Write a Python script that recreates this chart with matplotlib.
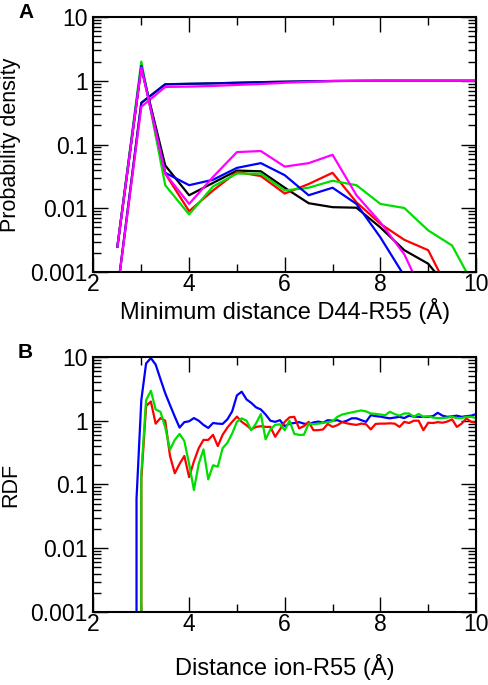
import matplotlib
matplotlib.use("Agg")
import matplotlib.pyplot as plt
import numpy as np
from matplotlib.ticker import LogLocator, MultipleLocator, FixedLocator, FixedFormatter

plt.rcParams['font.family'] = ['Liberation Sans', 'DejaVu Sans']

# ---- panel A: minimum distance D44-R55 ----
dist = [2.5, 3.0, 3.5, 4.0, 4.5, 5.0, 5.5, 6.0, 6.5, 7.0, 7.5, 8.0, 8.5, 9.0, 9.5, 10.0]

dens_black = [0.0025, 1.6, 0.047, 0.016, 0.025, 0.039, 0.038, 0.021, 0.012, 0.0104,
              0.0102, 0.005, 0.0022, 0.00135, 0.00047, 0]
dens_red = [0.0025, 1.7, 0.035, 0.009, 0.019, 0.037, 0.032, 0.017, 0.024, 0.036,
            0.0124, 0.0057, 0.0032, 0.0022, 0.0004, 0]
dens_green = [0.0025, 2.0, 0.023, 0.008, 0.022, 0.035, 0.035, 0.019, 0.021, 0.027,
              0.023, 0.0117, 0.0101, 0.0045, 0.0026, 0.00053]
dens_blue = [0.0025, 1.7, 0.036, 0.023, 0.028, 0.043, 0.051, 0.033, 0.016, 0.021,
             0.0117, 0.0035, 0.00087, 0, 0, 0]
dens_magenta = [0.0025, 1.6, 0.035, 0.0117, 0.031, 0.076, 0.079, 0.045, 0.051, 0.069,
                0.016, 0.006, 0.0019, 0.0003, 0, 0]

cum_dark = [0.0005, 0.45, 0.88, 0.895, 0.91, 0.93, 0.95, 0.965, 0.98, 0.99,
            0.995, 1.0, 1.0, 1.0, 1.0, 1.0]
cum_magenta = [0.0005, 0.39, 0.80, 0.81, 0.83, 0.86, 0.89, 0.93, 0.96, 0.99,
               1.0, 1.0, 1.0, 1.0, 1.0, 1.0]

# ---- panel B: RDF ion-R55 ----
r = np.round(np.arange(2.8, 10.01, 0.1), 1)

rdf_blue = [0, 0.06, 2.1, 7.9, 9.6, 7.6, 4.5, 2.7, 1.76, 1.16,
            0.78, 0.95, 0.98, 1.1, 1.0, 0.86, 0.77, 0.92, 0.90, 0.89,
            1.05, 1.4, 2.5, 2.85, 2.16, 1.9, 1.62, 1.5, 1.25, 1.0,
            0.96, 1.02, 0.82, 0.9, 0.92, 0.95, 0.9, 0.88, 0.94, 0.97,
            0.93, 1.02, 1.0, 1.02, 0.95, 1.0, 1.09, 1.09, 1.02, 0.96,
            1.22, 1.18, 1.16, 1.12, 1.09, 1.12, 1.15, 1.1, 1.2, 1.16,
            1.15, 1.15, 1.15, 1.18, 1.33, 1.2, 1.15, 1.17, 1.2, 1.15,
            1.18, 1.2, 1.27]
rdf_red = [0, 0, 0.12, 1.7, 2.0, 0.9, 1.1, 1.0, 0.28, 0.15,
           0.21, 0.28, 0.13, 0.23, 0.37, 0.5, 0.5, 0.6, 0.4, 0.6,
           0.78, 0.96, 1.16, 0.96, 0.85, 0.73, 0.8, 0.82, 0.8, 0.8,
           0.56, 0.73, 0.96, 1.13, 1.15, 0.76, 0.82, 0.96, 0.71, 0.71,
           0.73, 0.89, 0.8, 0.85, 0.95, 0.91, 0.88, 0.86, 0.9, 0.88,
           0.73, 0.89, 0.9, 0.9, 0.91, 0.9, 0.8, 0.96, 0.92, 1.0,
           1.0, 0.71, 0.93, 0.92, 0.95, 0.93, 0.97, 1.05, 0.8, 0.9,
           1.08, 0.96, 0.93]
rdf_green = [0, 0, 0.15, 2.1, 2.95, 1.5, 1.38, 0.79, 0.35, 0.5,
             0.62, 0.48, 0.21, 0.082, 0.21, 0.355, 0.12, 0.2, 0.19, 0.37,
             0.45, 0.63, 0.96, 1.09, 1.0, 0.71, 0.91, 1.27, 0.51, 0.73,
             0.86, 0.88, 0.71, 1.0, 0.62, 0.6, 0.6, 0.9, 0.88, 0.9,
             0.92, 0.95, 0.98, 1.15, 1.25, 1.3, 1.35, 1.4, 1.45, 1.4,
             1.3, 1.28, 1.25, 1.22, 1.38, 1.27, 1.2, 1.3, 1.3, 1.15,
             1.28, 1.15, 1.18, 1.12, 1.1, 1.1, 1.12, 1.15, 1.1, 1.1,
             1.15, 1.15, 1.1]

fig = plt.figure(figsize=(4.89, 6.85), dpi=100)
axA = fig.add_axes([0.1912, 0.6029, 0.7822, 0.3723])
axB = fig.add_axes([0.1912, 0.1066, 0.7822, 0.3723])

lw = 1.6
axA.plot(dist, cum_dark, color='black', lw=lw)
axA.plot(dist, cum_dark, color='blue', lw=lw, alpha=0.7)
axA.plot(dist, cum_magenta, color='magenta', lw=lw)
axA.plot(dist, dens_black, color='black', lw=lw)
axA.plot(dist, dens_red, color='red', lw=lw)
axA.plot(dist, dens_green, color='#00dd00', lw=lw)
axA.plot(dist, dens_blue, color='blue', lw=lw)
axA.plot(dist, dens_magenta, color='magenta', lw=lw)

axB.plot(r, rdf_blue, color='blue', lw=lw)
axB.plot(r, rdf_red, color='red', lw=lw)
axB.plot(r, rdf_green, color='#00dd00', lw=lw)

fs = 16.5
ylabels = ['0.001', '0.01', '0.1', '1', '10']
for ax in (axA, axB):
    ax.set_yscale('log', nonpositive='clip')
    ax.set_xlim(2, 10)
    ax.set_ylim(0.001, 10)
    ax.xaxis.set_major_locator(MultipleLocator(2))
    ax.xaxis.set_minor_locator(MultipleLocator(1))
    ax.yaxis.set_major_locator(FixedLocator([0.001, 0.01, 0.1, 1, 10]))
    ax.yaxis.set_major_formatter(FixedFormatter(ylabels))
    ax.yaxis.set_minor_locator(LogLocator(base=10, subs=np.arange(2, 10)))
    ax.yaxis.set_minor_formatter(plt.NullFormatter())
    ax.tick_params(which='both', direction='in', top=True, right=True,
                   labelsize=fs, width=1.0)
    ax.tick_params(axis='y', pad=4)
    ax.tick_params(axis='x', pad=1)
    ax.tick_params(which='major', length=11)
    ax.tick_params(which='minor', length=5.5)
    for s in ax.spines.values():
        s.set_linewidth(1.5)

axA.set_xlabel('Minimum distance D44-R55 (Å)', fontsize=17, labelpad=1)
axA.set_ylabel('Probability density', fontsize=15.5, labelpad=7)
axB.set_xlabel('Distance ion-R55 (Å)', fontsize=17, labelpad=13)
axB.set_ylabel('RDF', fontsize=15.5, labelpad=7)

fig.text(18 / 489, 1 - 13 / 685, 'A', fontsize=15, fontweight='bold', va='center')
fig.text(18 / 489, 1 - 352 / 685, 'B', fontsize=15, fontweight='bold', va='center')

fig.savefig('out.png', dpi=100)
